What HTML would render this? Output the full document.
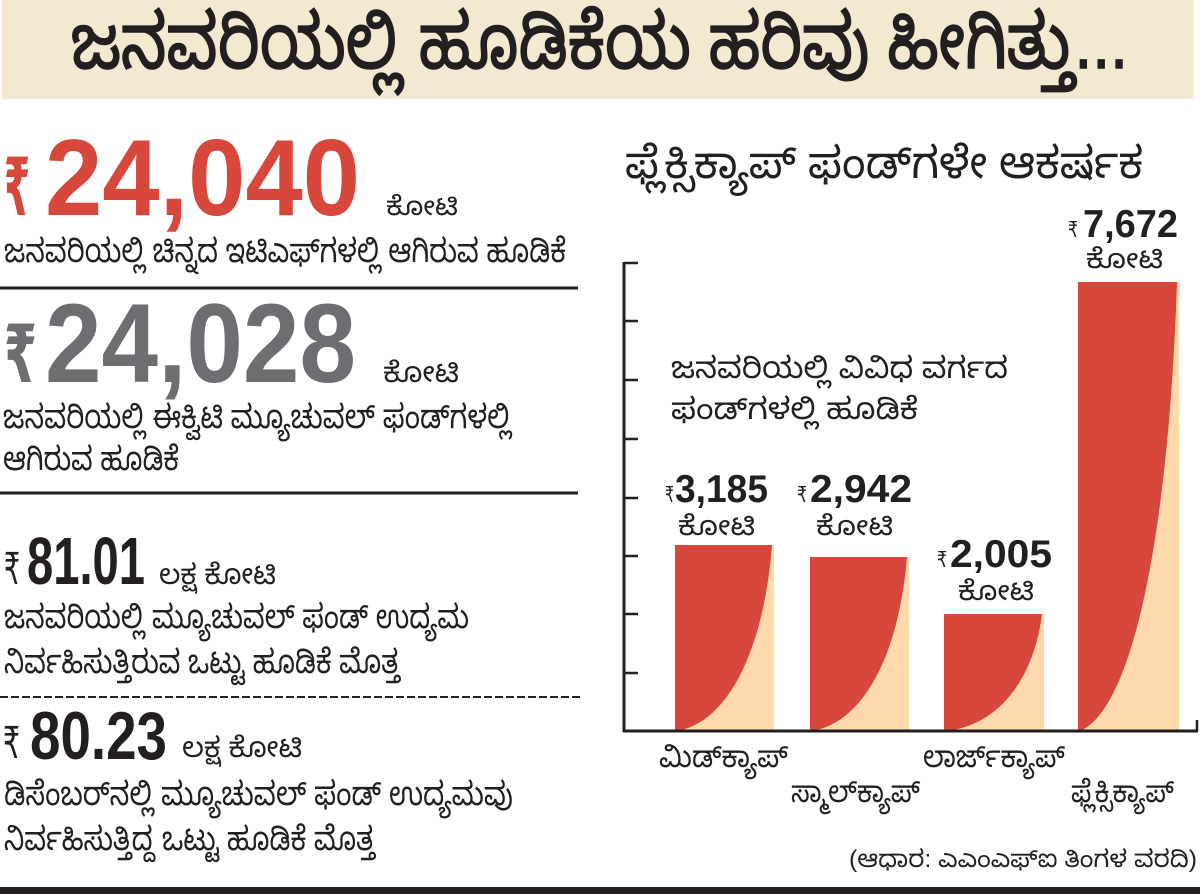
<!DOCTYPE html>
<html>
<head>
<meta charset="utf-8">
<style>
  html, body { margin: 0; padding: 0; background: #ffffff; }
  svg { display: block; }
  .kn { font-family: "Liberation Sans", "Noto Sans Kannada", "Lohit Kannada", "DejaVu Sans", sans-serif; fill: #231f20; }
  .num { font-family: "Liberation Sans Narrow", "Liberation Sans", sans-serif; font-weight: bold; }
  .rs { font-family: "Liberation Sans", "DejaVu Sans", sans-serif; }
</style>
</head>
<body>
<svg width="1200" height="894" viewBox="0 0 1200 894" xmlns="http://www.w3.org/2000/svg">
  <rect x="0" y="0" width="1200" height="894" fill="#ffffff"/>
  <!-- Title banner -->
  <rect x="2" y="0" width="1191" height="99" fill="#f2e9d0"/>
  <text class="kn" x="71" y="68" font-size="76" stroke="#231f20" stroke-width="1.5" textLength="1057" lengthAdjust="spacingAndGlyphs">ಜನವರಿಯಲ್ಲಿ ಹೂಡಿಕೆಯ ಹರಿವು ಹೀಗಿತ್ತು...</text>

  <!-- Left block 1 -->
  <text class="rs" x="4" y="215" font-size="80" font-weight="bold" fill="#d8473b" textLength="26" lengthAdjust="spacingAndGlyphs">₹</text>
  <text class="num" x="45" y="215" font-size="109" fill="#d8473b" textLength="315" lengthAdjust="spacingAndGlyphs">24,040</text>
  <text class="kn" x="386" y="215" font-size="26" textLength="72" lengthAdjust="spacingAndGlyphs">ಕೋಟಿ</text>
  <text class="kn" x="4" y="262" font-size="33" textLength="562" lengthAdjust="spacingAndGlyphs">ಜನವರಿಯಲ್ಲಿ ಚಿನ್ನದ ಇಟಿಎಫ್‌ಗಳಲ್ಲಿ ಆಗಿರುವ ಹೂಡಿಕೆ</text>
  <line x1="0" y1="288" x2="578" y2="288" stroke="#231f20" stroke-width="3"/>

  <!-- Left block 2 -->
  <text class="rs" x="4" y="382" font-size="80" font-weight="bold" fill="#6d6e71" textLength="33" lengthAdjust="spacingAndGlyphs">₹</text>
  <text class="num" x="45" y="382" font-size="112" fill="#6d6e71" textLength="311" lengthAdjust="spacingAndGlyphs">24,028</text>
  <text class="kn" x="383" y="382" font-size="28" textLength="76" lengthAdjust="spacingAndGlyphs">ಕೋಟಿ</text>
  <text class="kn" x="3" y="428" font-size="33" textLength="508" lengthAdjust="spacingAndGlyphs">ಜನವರಿಯಲ್ಲಿ ಈಕ್ವಿಟಿ ಮ್ಯೂಚುವಲ್ ಫಂಡ್‌ಗಳಲ್ಲಿ</text>
  <text class="kn" x="3" y="470" font-size="33" textLength="176" lengthAdjust="spacingAndGlyphs">ಆಗಿರುವ ಹೂಡಿಕೆ</text>
  <line x1="0" y1="493" x2="578" y2="493" stroke="#231f20" stroke-width="3"/>

  <!-- Left block 3 -->
  <text class="rs" x="4" y="584" font-size="44" fill="#231f20" textLength="16" lengthAdjust="spacingAndGlyphs">₹</text>
  <text class="num" x="27" y="584" font-size="67" fill="#231f20" textLength="118" lengthAdjust="spacingAndGlyphs">81.01</text>
  <text class="kn" x="159" y="584" font-size="28" textLength="117" lengthAdjust="spacingAndGlyphs">ಲಕ್ಷ ಕೋಟಿ</text>
  <text class="kn" x="4" y="628" font-size="33" textLength="465" lengthAdjust="spacingAndGlyphs">ಜನವರಿಯಲ್ಲಿ ಮ್ಯೂಚುವಲ್ ಫಂಡ್ ಉದ್ಯಮ</text>
  <text class="kn" x="4" y="673" font-size="33" textLength="396" lengthAdjust="spacingAndGlyphs">ನಿರ್ವಹಿಸುತ್ತಿರುವ ಒಟ್ಟು ಹೂಡಿಕೆ ಮೊತ್ತ</text>
  <line x1="0" y1="697" x2="580" y2="697" stroke="#231f20" stroke-width="2" stroke-dasharray="8 3"/>

  <!-- Left block 4 -->
  <text class="rs" x="3" y="758" font-size="44" fill="#231f20" textLength="17" lengthAdjust="spacingAndGlyphs">₹</text>
  <text class="num" x="30" y="759" font-size="68" fill="#231f20" textLength="137" lengthAdjust="spacingAndGlyphs">80.23</text>
  <text class="kn" x="182" y="757" font-size="28" textLength="120" lengthAdjust="spacingAndGlyphs">ಲಕ್ಷ ಕೋಟಿ</text>
  <text class="kn" x="4" y="805" font-size="33" textLength="509" lengthAdjust="spacingAndGlyphs">ಡಿಸೆಂಬರ್‌ನಲ್ಲಿ ಮ್ಯೂಚುವಲ್ ಫಂಡ್ ಉದ್ಯಮವು</text>
  <text class="kn" x="4" y="850" font-size="33" textLength="371" lengthAdjust="spacingAndGlyphs">ನಿರ್ವಹಿಸುತ್ತಿದ್ದ ಒಟ್ಟು ಹೂಡಿಕೆ ಮೊತ್ತ</text>

  <!-- Right: heading -->
  <text class="kn" x="625" y="178" font-size="44" textLength="518" lengthAdjust="spacingAndGlyphs">ಫ್ಲೆಕ್ಸಿಕ್ಯಾಪ್ ಫಂಡ್‌ಗಳೇ ಆಕರ್ಷಕ</text>

  <!-- Chart subtitle -->
  <text class="kn" x="671" y="378" font-size="30" textLength="337" lengthAdjust="spacingAndGlyphs">ಜನವರಿಯಲ್ಲಿ ವಿವಿಧ  ವರ್ಗದ</text>
  <text class="kn" x="671" y="419" font-size="30" textLength="247" lengthAdjust="spacingAndGlyphs">ಫಂಡ್‌ಗಳಲ್ಲಿ ಹೂಡಿಕೆ</text>

  <!-- Bars -->
  <rect x="675" y="545" width="99" height="186" fill="#d8473b"/>
  <path d="M677,731 C729.5,721.7 764.1,647.3 772,545 L774,545 L774,731 Z" fill="#fdd9ab"/>
  <rect x="810" y="557" width="99" height="174" fill="#d8473b"/>
  <path d="M812,731 C864.5,722.3 899.1,652.7 907,557 L909,557 L909,731 Z" fill="#fdd9ab"/>
  <rect x="944" y="614" width="100" height="117" fill="#d8473b"/>
  <path d="M946,731 C999,725.2 1034,678.4 1042,614 L1044,614 L1044,731 Z" fill="#fdd9ab"/>
  <rect x="1078" y="282" width="101" height="449" fill="#d8473b"/>
  <path d="M1080,731 C1133.6,708.6 1168.9,529 1177,282 L1179,282 L1179,731 Z" fill="#fdd9ab"/>

  <!-- Axes -->
  <line x1="624" y1="262" x2="624" y2="732" stroke="#231f20" stroke-width="3"/>
  <g stroke="#231f20" stroke-width="2.5">
    <line x1="624" y1="263" x2="638" y2="263"/>
    <line x1="624" y1="321" x2="638" y2="321"/>
    <line x1="624" y1="380" x2="638" y2="380"/>
    <line x1="624" y1="439" x2="638" y2="439"/>
    <line x1="624" y1="498" x2="638" y2="498"/>
    <line x1="624" y1="556" x2="638" y2="556"/>
    <line x1="624" y1="614" x2="638" y2="614"/>
    <line x1="624" y1="673" x2="638" y2="673"/>
    <line x1="1197" y1="720" x2="1197" y2="731"/>
  </g>
  <line x1="623" y1="731" x2="1198" y2="731" stroke="#231f20" stroke-width="3"/>

  <!-- Bar value labels -->
  <text class="rs" x="665" y="502" font-size="22" fill="#231f20" textLength="9" lengthAdjust="spacingAndGlyphs">₹</text>
  <text class="num" x="675" y="502" font-size="39" fill="#231f20" textLength="93" lengthAdjust="spacingAndGlyphs">3,185</text>
  <text class="kn" x="678" y="535" font-size="27" textLength="77" lengthAdjust="spacingAndGlyphs">ಕೋಟಿ</text>

  <text class="rs" x="797" y="502" font-size="22" fill="#231f20" textLength="10" lengthAdjust="spacingAndGlyphs">₹</text>
  <text class="num" x="810" y="502" font-size="39" fill="#231f20" textLength="102" lengthAdjust="spacingAndGlyphs">2,942</text>
  <text class="kn" x="816" y="535" font-size="27" textLength="77" lengthAdjust="spacingAndGlyphs">ಕೋಟಿ</text>

  <text class="rs" x="937" y="567" font-size="22" fill="#231f20" textLength="10" lengthAdjust="spacingAndGlyphs">₹</text>
  <text class="num" x="950" y="567" font-size="39" fill="#231f20" textLength="102" lengthAdjust="spacingAndGlyphs">2,005</text>
  <text class="kn" x="958" y="600" font-size="27" textLength="76" lengthAdjust="spacingAndGlyphs">ಕೋಟಿ</text>

  <text class="rs" x="1068" y="237" font-size="22" fill="#231f20" textLength="10" lengthAdjust="spacingAndGlyphs">₹</text>
  <text class="num" x="1083" y="237" font-size="39" fill="#231f20" textLength="95" lengthAdjust="spacingAndGlyphs">7,672</text>
  <text class="kn" x="1086" y="268" font-size="27" textLength="77" lengthAdjust="spacingAndGlyphs">ಕೋಟಿ</text>

  <!-- Category labels -->
  <text class="kn" x="659" y="767" font-size="30" textLength="129" lengthAdjust="spacingAndGlyphs">ಮಿಡ್‌ಕ್ಯಾಪ್</text>
  <text class="kn" x="791" y="802" font-size="30" textLength="129" lengthAdjust="spacingAndGlyphs">ಸ್ಮಾಲ್‌ಕ್ಯಾಪ್</text>
  <text class="kn" x="923" y="767" font-size="30" textLength="142" lengthAdjust="spacingAndGlyphs">ಲಾರ್ಜ್‌ಕ್ಯಾಪ್</text>
  <text class="kn" x="1071" y="802" font-size="30" textLength="103" lengthAdjust="spacingAndGlyphs">ಫ್ಲೆಕ್ಸಿಕ್ಯಾಪ್</text>

  <!-- Source -->
  <text class="kn" x="849" y="867" font-size="24" textLength="348" lengthAdjust="spacingAndGlyphs">(ಆಧಾರ: ಎಎಂಎಫ್‌ಐ ತಿಂಗಳ ವರದಿ)</text>

  <!-- Bottom bar -->
  <rect x="0" y="887" width="1200" height="7" fill="#231f20"/>
</svg>
</body>
</html>
